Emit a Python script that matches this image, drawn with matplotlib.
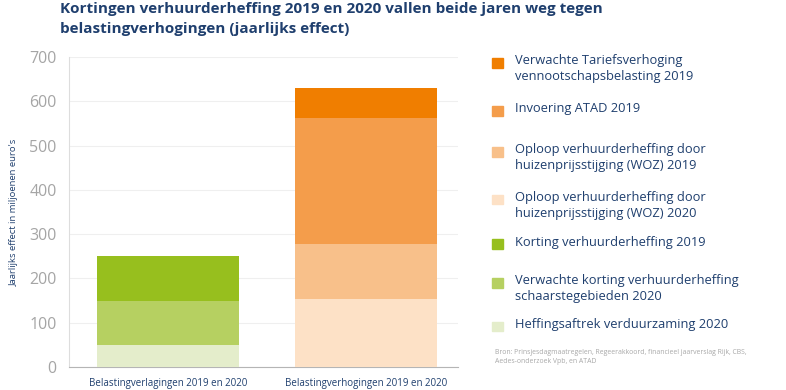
import matplotlib
matplotlib.use("Agg")
import matplotlib.pyplot as plt
from matplotlib.patches import Rectangle

# ---- data ----
categories = ["Belastingverlagingen 2019 en 2020", "Belastingverhogingen 2019 en 2020"]
series_labels = [
    "Heffingsaftrek verduurzaming 2020",
    "Verwachte korting verhuurderheffing\nschaarstegebieden 2020",
    "Korting verhuurderheffing 2019",
    "Oploop verhuurderheffing door\nhuizenprijsstijging (WOZ) 2020",
    "Oploop verhuurderheffing door\nhuizenprijsstijging (WOZ) 2019",
    "Invoering ATAD 2019",
    "Verwachte Tariefsverhoging\nvennootschapsbelasting 2019",
]
series_values = [
    [50, 0],
    [100, 0],
    [100, 0],
    [0, 153],
    [0, 125],
    [0, 284],
    [0, 68],
]
series_colors = ["#E4EDCB", "#B6D061", "#97BF1E", "#FDE1C6", "#F8C08A", "#F49D4B", "#F07E00"]
yticks = [0, 100, 200, 300, 400, 500, 600, 700]

title = "Kortingen verhuurderheffing 2019 en 2020 vallen beide jaren weg tegen\nbelastingverhogingen (jaarlijks effect)"
ylabel = "Jaarlijks effect in miljoenen euro's"
source = "Bron: Prinsjesdagmaatregelen, Regeerakkoord, financieel jaarverslag Rijk, CBS,\nAedes-onderzoek Vpb, en ATAD"

navy = "#1F3F6E"
W, H = 786, 390
fig = plt.figure(figsize=(W / 100, H / 100), dpi=100)
ax = fig.add_axes([69 / W, 1 - 367 / H, (458 - 69) / W, (367 - 57) / H])

x = list(range(len(categories)))
bottom = [0] * len(categories)
for vals, col in zip(series_values, series_colors):
    ax.bar(x, vals, width=0.72, bottom=bottom, color=col, linewidth=0, zorder=3)
    bottom = [b + v for b, v in zip(bottom, vals)]

ax.set_xlim(-0.5, 1.465)
ax.set_ylim(0, 700)
ax.set_yticks(yticks)
ax.set_yticklabels([str(t) for t in yticks], fontsize=11.5, color="#A5A5A5", family="Open Sans")
ax.set_xticks(x)
ax.set_xticklabels(categories, fontsize=7.0, color=navy, family="Open Sans")
ax.tick_params(axis="both", length=0)
ax.tick_params(axis="y", pad=9)
ax.tick_params(axis="x", pad=8)
ax.grid(axis="y", color="#EFEFEF", linewidth=0.8, zorder=0)
for s in ["top", "right"]:
    ax.spines[s].set_visible(False)
ax.spines["left"].set_color("#DDDDDD")
ax.spines["bottom"].set_color("#B5B5B5")
ax.set_ylabel(ylabel, fontsize=6.8, color=navy, family="Open Sans")
ax.yaxis.set_label_coords(-50 / (458 - 69), 0.5)

fig.text(60 / W, 1 - 2 / H, title, ha="left", va="top", fontsize=11, fontweight="bold",
         color=navy, family="Open Sans", linespacing=1.5)

# legend (manual, top to bottom)
first_line_y = [62.7, 110.7, 151.7, 199.3, 244, 282.7, 326]
order = list(range(len(series_labels)))[::-1]
for yy, i in zip(first_line_y, order):
    fig.patches.append(Rectangle((492 / W, 1 - (yy + 5) / H), 10.5 / W, 9.5 / H,
                                 transform=fig.transFigure, color=series_colors[i]))
    fig.text(515 / W, 1 - (yy - 8.3) / H, series_labels[i], ha="left", va="top",
             fontsize=9.3, color=navy, family="Open Sans", linespacing=1.27)

fig.text(495 / W, 1 - 349.5 / H, source, ha="left", va="top", fontsize=4.95,
         color="#A8A8A8", family="Open Sans", linespacing=1.3)

fig.savefig("out.png", dpi=100, facecolor="white")
